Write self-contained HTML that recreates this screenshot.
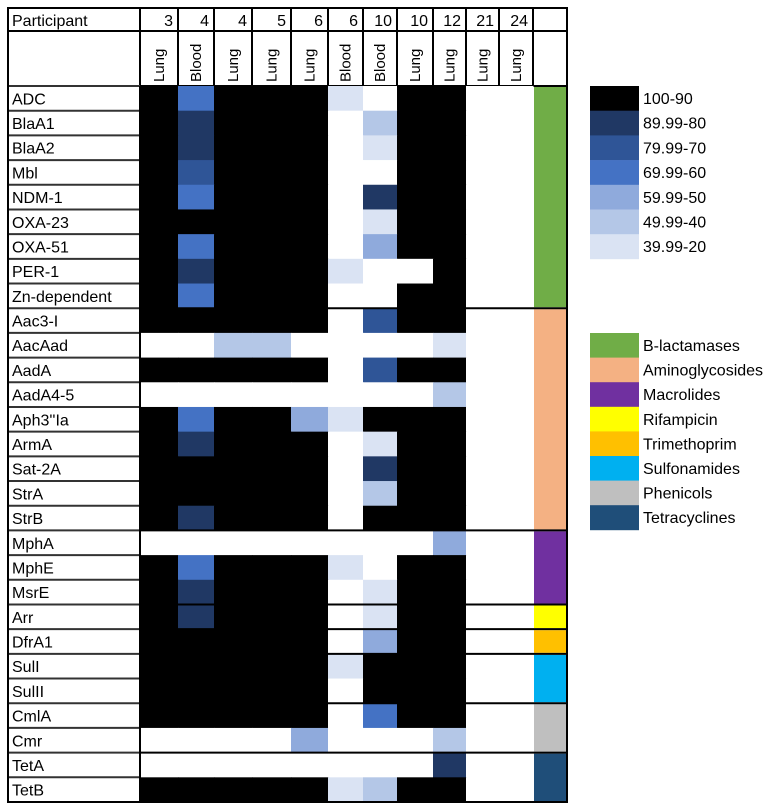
<!DOCTYPE html>
<html><head><meta charset="utf-8">
<style>
html,body{margin:0;padding:0;background:#fff;}
svg{display:block;font-family:"Liberation Sans",Arial,sans-serif;}
</style></head>
<body>
<svg id="chart" width="776" height="811" viewBox="0 0 776 811" xmlns="http://www.w3.org/2000/svg"></svg>
<script>
const participants = ["3","4","4","5","6","6","10","10","12","21","24"];
const sampleTypes = ["Lung","Blood","Lung","Lung","Lung","Blood","Blood","Lung","Lung","Lung","Lung"];
const genes = ["ADC","BlaA1","BlaA2","Mbl","NDM-1","OXA-23","OXA-51","PER-1","Zn-dependent",
"Aac3-I","AacAad","AadA","AadA4-5","Aph3''Ia","ArmA","Sat-2A","StrA","StrB",
"MphA","MphE","MsrE","Arr","DfrA1","SulI","SulII","CmlA","Cmr","TetA","TetB"];
const identity = [
[95,65,95,95,95,30,0,95,95,0,0],
[95,85,95,95,95,0,45,95,95,0,0],
[95,85,95,95,95,0,30,95,95,0,0],
[95,75,95,95,95,0,0,95,95,0,0],
[95,65,95,95,95,0,85,95,95,0,0],
[95,95,95,95,95,0,30,95,95,0,0],
[95,65,95,95,95,0,55,95,95,0,0],
[95,85,95,95,95,30,0,0,95,0,0],
[95,65,95,95,95,0,0,95,95,0,0],
[95,95,95,95,95,0,75,95,95,0,0],
[0,0,45,45,0,0,0,0,30,0,0],
[95,95,95,95,95,0,75,95,95,0,0],
[0,0,0,0,0,0,0,0,45,0,0],
[95,65,95,95,55,30,95,95,95,0,0],
[95,85,95,95,95,0,30,95,95,0,0],
[95,95,95,95,95,0,85,95,95,0,0],
[95,95,95,95,95,0,45,95,95,0,0],
[95,85,95,95,95,0,95,95,95,0,0],
[0,0,0,0,0,0,0,0,55,0,0],
[95,65,95,95,95,30,0,95,95,0,0],
[95,85,95,95,95,0,30,95,95,0,0],
[95,85,95,95,95,0,30,95,95,0,0],
[95,95,95,95,95,0,55,95,95,0,0],
[95,95,95,95,95,30,95,95,95,0,0],
[95,95,95,95,95,0,95,95,95,0,0],
[95,95,95,95,95,0,65,95,95,0,0],
[0,0,0,0,55,0,0,0,45,0,0],
[0,0,0,0,0,0,0,0,85,0,0],
[95,95,95,95,95,30,45,95,95,0,0]];
const classNames = ["B-lactamases","Aminoglycosides","Macrolides","Rifampicin","Trimethoprim","Sulfonamides","Phenicols","Tetracyclines"];
const classColors = ["#70ad47","#f4b183","#7030a0","#ffff00","#ffc000","#00b0f0","#bfbfbf","#1f4e79"];
const classRowCounts = [9,9,3,1,1,2,2,2];
const binLabels = ["100-90","89.99-80","79.99-70","69.99-60","59.99-50","49.99-40","39.99-20"];
const binMins = [90,80,70,60,50,40,20];
const binColors = ["#000000","#203864","#2f5597","#4472c4","#8faadc","#b4c7e7","#dae3f3"];

(function(){
const NS="http://www.w3.org/2000/svg";
const svg=document.getElementById('chart');
function mk(tag,attrs,parent){const el=document.createElementNS(NS,tag);for(const k in attrs)el.setAttribute(k,attrs[k]);(parent||svg).appendChild(el);return el;}
const colX=[140,178,214,252,291,328,363,397,433,466,499,533,567];
const tableLeft=8, tableTop=8, h1=31, h2=86, rowH=(802-86)/genes.length;
function rowY(i){return h2+i*rowH;}
function colorFor(v){if(v<=0)return "#ffffff";for(let i=0;i<binMins.length;i++){if(v>=binMins[i])return binColors[i];}return "#ffffff";}

let ph=mk('text',{x:12,y:26,'font-size':16,fill:'#000'});


ph.textContent='Participant';
for(let c=0;c<participants.length;c++){
  let t=mk('text',{x:colX[c+1]-5,y:26,'font-size':16,'text-anchor':'end'});
  
  
  t.textContent=participants[c];
  let cx=(colX[c]+colX[c+1])/2+5;
  let s=mk('text',{x:0,y:0,'font-size':15,transform:'translate('+cx+','+(h2-4)+') rotate(-90)'});
  
  
  s.textContent=sampleTypes[c];
}
for(const x of colX){mk('line',{x1:x,y1:tableTop,x2:x,y2:h2,stroke:'#000','stroke-width':2});}
mk('line',{x1:tableLeft,y1:h1,x2:567,y2:h1,stroke:'#000','stroke-width':2});
mk('line',{x1:tableLeft,y1:h2,x2:567,y2:h2,stroke:'#000','stroke-width':2});

for(let r=0;r<genes.length;r++){
  for(let c=0;c<participants.length;c++){
    let rc=mk('rect',{x:colX[c],y:rowY(r),width:colX[c+1]-colX[c]+0.5,height:rowH+0.5,fill:colorFor(identity[r][c])});
    
    
  }
  let g=mk('text',{x:12,y:rowY(r)+rowH/2+6,'font-size':16});
  
  
  g.textContent=genes[r];
  mk('line',{x1:tableLeft,y1:rowY(r),x2:colX[0],y2:rowY(r),stroke:'#333','stroke-width':2});
}
let start=0;
for(let k=0;k<classRowCounts.length;k++){
  let y0=rowY(start), y1=rowY(start+classRowCounts[k]);
  let rc=mk('rect',{x:colX[11]+1,y:y0+1,width:colX[12]-colX[11]-2,height:y1-y0-2,fill:classColors[k]});
  
  
  if(start>0)mk('line',{x1:colX[0],y1:y0,x2:567,y2:y0,stroke:'#000','stroke-width':2});
  start+=classRowCounts[k];
}
mk('line',{x1:colX[0],y1:h2,x2:colX[0],y2:802,stroke:'#000','stroke-width':2});
mk('rect',{x:tableLeft,y:tableTop,width:567-tableLeft,height:802-tableTop,fill:'none',stroke:'#000','stroke-width':2});

for(let i=0;i<binLabels.length;i++){
  let y=86+i*24.7;
  let rc=mk('rect',{x:590,y:y,width:49,height:25,fill:binColors[i]});
  
  
  let t=mk('text',{x:643,y:y+18,'font-size':16});
  
  
  t.textContent=binLabels[i];
}
for(let i=0;i<classNames.length;i++){
  let y=333+i*24.6;
  let rc=mk('rect',{x:590,y:y,width:49,height:25,fill:classColors[i]});
  
  
  let t=mk('text',{x:643,y:y+18,'font-size':16});
  
  
  t.textContent=classNames[i];
}
})();
</script>
</body></html>
